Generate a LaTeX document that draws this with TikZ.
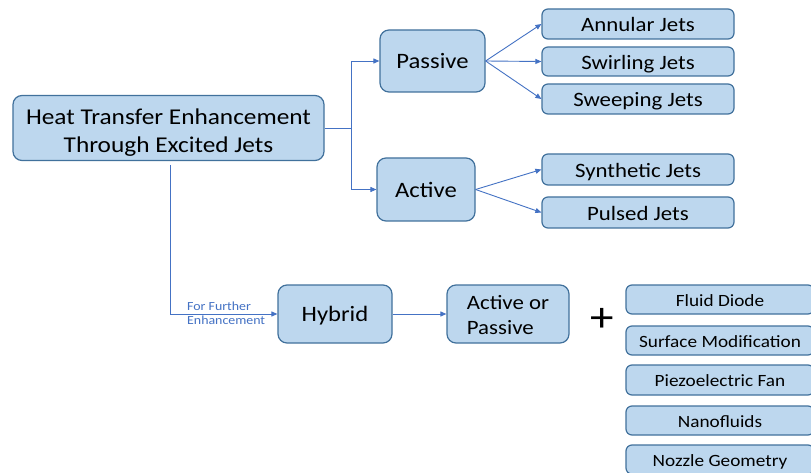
\documentclass[tikz,border=0pt]{standalone}
\usepackage{fontspec}
\setmainfont[FakeStretch=1.12]{Carlito}
\usetikzlibrary{arrows.meta}
\definecolor{boxfill}{HTML}{BDD7EE}
\definecolor{boxline}{HTML}{41719C}
\definecolor{connc}{HTML}{4472C4}
\begin{document}
\begin{tikzpicture}[x=1pt,y=-1pt,
  box/.style={draw=boxline, fill=boxfill, line width=1.2pt, rounded corners=9pt, inner sep=0pt, align=center, text=black},
  bigbox/.style={box, font=\fontsize{22}{26}\selectfont, text height=15.5pt, text depth=0pt},
  sbox/.style={box, rounded corners=6pt, minimum width=192pt, font=\fontsize{20.4}{24}\selectfont, text height=15.5pt, text depth=0pt},
  rbox/.style={box, rounded corners=6pt, minimum width=188pt, font=\fontsize{17.2}{20}\selectfont, text height=13.5pt, text depth=0pt},
  conn/.style={draw=connc, line width=0.9pt},
  arr/.style={conn, -{Triangle[length=6pt,width=5pt]}}]
\clip (0,0) rectangle (811,473);
\fill[white] (0,0) rectangle (811,473);
% top tree
\node[box, minimum width=311pt, minimum height=65pt, font=\fontsize{22.6}{28}\selectfont, text height=50pt, text depth=0pt] (main) at (168.5,128) {Heat Transfer Enhancement\\Through Excited Jets};
\node[bigbox, minimum width=105pt, minimum height=62pt] (passive) at (432.5,61) {Passive};
\node[bigbox, minimum width=98pt, minimum height=63pt] (active) at (426,189.5) {Active};
\node[sbox, minimum height=30pt] (annular) at (638,24) {Annular Jets};
\node[sbox, minimum height=29pt] (swirling) at (638,61.5) {Swirling Jets};
\node[sbox, minimum height=30pt] (sweeping) at (638,99) {Sweeping Jets};
\node[sbox, minimum height=31pt] (synthetic) at (638,169.5) {Synthetic Jets};
\node[sbox, minimum height=31pt] (pulsed) at (638,212.5) {Pulsed Jets};
% bottom row
\node[bigbox, minimum width=114pt, minimum height=58pt] (hybrid) at (335,314) {Hybrid};
\node[box, minimum width=122pt, minimum height=58pt, align=left, font=\fontsize{20.4}{25}\selectfont, text height=40pt, text depth=0pt] (aop) at (508,314) {Active or\\Passive};
\node[anchor=base, inner sep=0pt, font=\fontsize{42}{42}\selectfont] (plus) at (602.5,331) {+};
\node[rbox, minimum height=29pt] (diode) at (720,299.5) {Fluid Diode};
\node[rbox, minimum height=29pt] (surface) at (720,340.5) {Surface Modification};
\node[rbox, minimum height=30pt] (piezo) at (720,380) {Piezoelectric Fan};
\node[rbox, minimum height=29pt] (nano) at (720,420.5) {Nanofluids};
\node[rbox, minimum height=29pt] (nozzle) at (720,459.5) {Nozzle Geometry};
\node[anchor=north west, align=left, inner sep=0pt, text=connc, font=\fontsize{12.4}{14}\selectfont] (lbl) at (187,302) {For Further\\Enhancement};
% connectors
\coordinate (j) at (351,128);
\coordinate (m) at (170,165);
\draw[conn] (main.east) -- (j);
\draw[arr] (j) |- (passive.west);
\draw[arr] (j) |- (active.west);
\draw[arr] (passive.east) -- (annular.west);
\draw[arr] (passive.east) -- (swirling.west);
\draw[arr] (passive.east) -- (sweeping.west);
\draw[arr] (active.east) -- (synthetic.west);
\draw[arr] (active.east) -- (pulsed.west);
\draw[arr] (m) |- (hybrid.west);
\draw[arr] (hybrid.east) -- (aop.west);
\end{tikzpicture}
\end{document}
